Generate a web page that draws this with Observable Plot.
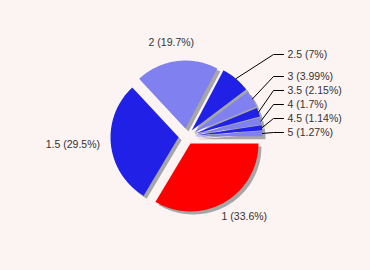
<!DOCTYPE html>
<html>
<head>
<meta charset="utf-8">
<script src="https://cdn.jsdelivr.net/npm/d3@7"></script>
<script src="https://cdn.jsdelivr.net/npm/@observablehq/plot@0.6"></script>
<style>
  html, body { margin: 0; padding: 0; background: #fcf3f3; }
  #chart { width: 370px; height: 270px; }
</style>
</head>
<body>
<div id="chart"></div>
<script>
// ---- data ----
const categories = ["1", "1.5", "2", "2.5", "3", "3.5", "4", "4.5", "5"];
const shares = [33.6, 29.5, 19.7, 7, 3.99, 2.15, 1.7, 1.14, 1.27];
const labelTexts = ["1 (33.6%)", "1.5 (29.5%)", "2 (19.7%)", "2.5 (7%)", "3 (3.99%)", "3.5 (2.15%)", "4 (1.7%)", "4.5 (1.14%)", "5 (1.27%)"];
const guidedCategories = ["2.5", "3", "3.5", "4", "4.5", "5"];

// ---- styles / layout ----
const sliceColors = ["#ff0000", "#2020e6", "#8080f0", "#2020e6", "#8080f0", "#2020e6", "#8080f0", "#2020e6", "#8080f0"];
const BG = "#fcf3f3";
const W = 370, H = 270;
const CX = 186, CY = 136;       // pie centre in the frame
const RADIUS = 68, EXPLODE = 8, SHADOW = 3;
const LABEL_R = 79, GUIDE_R = 100, GUIDE_X = 87, GUIDE_LEN = 10, GUIDE_GAP = 4, GUIDE_STEP = 14;
const FONT_PX = 10.5;
const FONT = FONT_PX + "px 'Liberation Sans'";
const TEXT_H = 12;

const total = d3.sum(shares);
let acc = 0;
const slices = categories.map((c, i) => {
  const a0 = acc / total * 2 * Math.PI;
  acc += shares[i];
  const a1 = acc / total * 2 * Math.PI;
  const m = (a0 + a1) / 2;
  return {c, i, a0, a1, m, ox: EXPLODE * Math.cos(m), oy: EXPLODE * Math.sin(m), label: labelTexts[i]};
});

// wedge polygons
const poly = slices.flatMap(s => {
  const n = Math.max(2, Math.ceil((s.a1 - s.a0) / (Math.PI / 180)));
  const pts = [{c: s.c, x: s.ox, y: s.oy}];
  for (let k = 0; k <= n; k++) {
    const a = s.a0 + (s.a1 - s.a0) * k / n;
    pts.push({c: s.c, x: s.ox + RADIUS * Math.cos(a), y: s.oy + RADIUS * Math.sin(a)});
  }
  return pts;
});

// text measuring
const ctx = document.createElement("canvas").getContext("2d");
ctx.font = FONT;

// plain labels (JpGraph-like alignment)
const plain = slices.filter(s => !guidedCategories.includes(s.c)).map(s => {
  const w = ctx.measureText(s.label).width;
  let a = 2 * Math.PI - s.m; // counter-clockwise math angle
  const P4 = Math.PI / 4;
  let dx, dy;
  if (a <= P4) { dx = 0; dy = 0.5 + a * 2 / Math.PI; }
  else if (a <= 3 * P4) { dx = (a - P4) * 2 / Math.PI; dy = 1; }
  else if (a <= 5 * P4) { dx = 1; dy = 1 - (a - 3 * P4) * 2 / Math.PI; }
  else if (a <= 7 * P4) { dx = 1 - (a - 5 * P4) * 2 / Math.PI; dy = 0; }
  else { dx = 0; dy = (a - 7 * P4) * 2 / Math.PI; }
  const px = s.ox + LABEL_R * Math.cos(s.m);
  const py = s.oy + LABEL_R * Math.sin(s.m);
  return {label: s.label, x: px - dx * w, y: py - dy * TEXT_H};
});

// guided labels, pushed apart from the bottom upwards
const guided = slices.filter(s => guidedCategories.includes(s.c));
let prevY = Infinity;
const guideRows = [];
for (let j = guided.length - 1; j >= 0; j--) {
  const s = guided[j];
  const natural = Math.round(s.oy + GUIDE_R * Math.sin(s.m));
  const y = Math.min(natural, prevY - GUIDE_STEP);
  prevY = y;
  guideRows.push({
    c: s.c, label: s.label, y,
    ex: s.ox + RADIUS * Math.cos(s.m), ey: s.oy + RADIUS * Math.sin(s.m)
  });
}
const guideLines = guideRows.flatMap(g => [
  {c: g.c, x: g.ex, y: g.ey},
  {c: g.c, x: GUIDE_X, y: g.y},
  {c: g.c, x: GUIDE_X + GUIDE_LEN, y: g.y}
]);

const chart = Plot.plot({
  width: W, height: H, margin: 0,
  x: {domain: [-CX, W - CX], range: [0, W], axis: null},
  y: {domain: [-CY, H - CY], range: [0, H], axis: null},
  color: {domain: categories, range: sliceColors},
  style: {background: BG, fontFamily: "'Liberation Sans', Arial, sans-serif", fontSize: FONT_PX + "px"},
  marks: [
    Plot.line(poly, {x: "x", y: "y", z: "c", fill: "#a6a6a6", stroke: "none", dx: SHADOW, dy: SHADOW}),
    Plot.line(poly, {x: "x", y: "y", z: "c", fill: "c", stroke: "none"}),
    Plot.line(guideLines, {x: "x", y: "y", z: "c", stroke: "#000", strokeWidth: 1}),
    Plot.text(guideRows, {x: GUIDE_X + GUIDE_LEN + GUIDE_GAP, y: "y", text: "label", textAnchor: "start", lineAnchor: "middle", fill: "#333"}),
    Plot.text(plain, {x: "x", y: "y", text: "label", textAnchor: "start", lineAnchor: "top", fill: "#333"})
  ]
});
document.getElementById("chart").appendChild(chart);
</script>
</body>
</html>
